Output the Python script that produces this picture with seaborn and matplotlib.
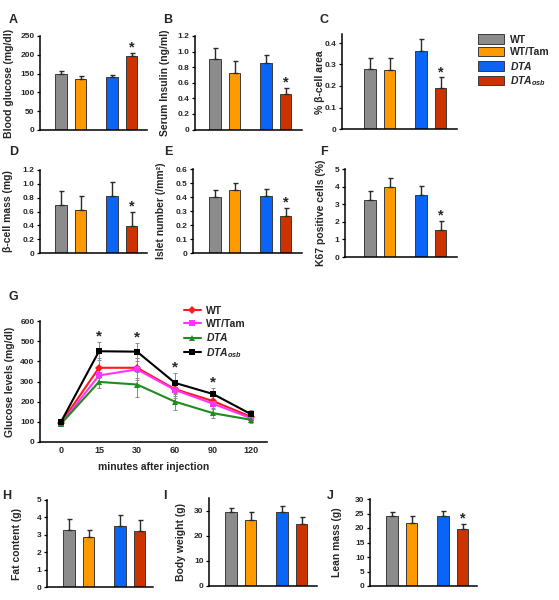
import numpy as np
import pandas as pd
import matplotlib
matplotlib.use("Agg")
import matplotlib.pyplot as plt
import matplotlib.transforms as mtransforms
from matplotlib.patches import Patch
from matplotlib.lines import Line2D
import seaborn as sns

# ---------------- data ----------------
groups = ["WT", "WT/Tam", "DTA", "DTA_osb"]
group_pos = [0, 1, 2.62, 3.62]
colors = ["#8C8C8C", "#FF9900", "#0A64F5", "#CC3300"]

glucose_mean = [148, 136, 141, 197]
glucose_err = [10, 7, 6, 7]
insulin_mean = [0.90, 0.73, 0.85, 0.46]
insulin_err = [0.15, 0.15, 0.10, 0.07]
area_mean = [0.28, 0.275, 0.365, 0.19]
area_err = [0.05, 0.055, 0.055, 0.05]
mass_mean = [0.70, 0.62, 0.82, 0.39]
mass_err = [0.20, 0.20, 0.20, 0.20]
islet_mean = [0.40, 0.45, 0.41, 0.265]
islet_err = [0.05, 0.05, 0.05, 0.055]
ki67_mean = [3.25, 3.95, 3.5, 1.55]
ki67_err = [0.52, 0.52, 0.55, 0.52]
fat_mean = [3.25, 2.85, 3.5, 3.2]
fat_err = [0.65, 0.45, 0.65, 0.65]
bw_mean = [29.5, 26.3, 29.5, 24.8]
bw_err = [1.5, 3.2, 2.3, 2.7]
lean_mean = [24.2, 21.7, 24.0, 19.5]
lean_err = [1.3, 2.3, 2.0, 2.0]

gtt_minutes = ["0", "15", "30", "60", "90", "120"]
gtt_wt = [95, 368, 368, 262, 203, 125]
gtt_wt_err = [12, 50, 50, 35, 25, 15]
gtt_tam = [90, 330, 360, 258, 190, 118]
gtt_tam_err = [10, 40, 55, 40, 25, 15]
gtt_dta = [90, 298, 285, 200, 143, 110]
gtt_dta_err = [10, 30, 60, 40, 25, 15]
gtt_osb = [100, 450, 448, 293, 238, 138]
gtt_osb_err = [12, 45, 45, 50, 30, 20]
gtt_star_idx = [1, 2, 3, 4]

# ---------------- style ----------------
sns.set_style("ticks")
plt.rcParams["font.family"] = ["Liberation Sans", "DejaVu Sans"]
plt.rcParams["font.weight"] = "bold"
plt.rcParams["axes.labelweight"] = "bold"
plt.rcParams["mathtext.fontset"] = "custom"
plt.rcParams["mathtext.it"] = "Liberation Sans:italic:bold"
plt.rcParams["mathtext.rm"] = "Liberation Sans:bold"
plt.rcParams["mathtext.bf"] = "Liberation Sans:bold"

W, H = 559, 600
fig = plt.figure(figsize=(W / 100, H / 100), dpi=100)
px = mtransforms.Affine2D().scale(1 / W, -1 / H).translate(0, 1) + fig.transFigure

legend_labels = ["WT", "WT/Tam", r"$\it{DTA}$", r"$\it{DTA}_{osb}$"]
palette = dict(zip(groups, colors))


def add_ax(l, t, r, b):
    return fig.add_axes([l / W, 1 - b / H, (r - l) / W, (b - t) / H])


def style_ax(ax, ylabel, ylab_x, yticks, fmt):
    sns.despine(ax=ax)
    for s in ("left", "bottom"):
        ax.spines[s].set_linewidth(1.1)
        ax.spines[s].set_color("black")
    ax.set_yticks(yticks)
    ax.set_yticklabels([fmt(v) for v in yticks], fontsize=6, fontweight="bold")
    ax.tick_params(axis="y", length=2.5, width=0.9, pad=1.5, color="black")
    ax.set_ylabel(ylabel, fontsize=7.5, fontweight="bold")
    bb = ax.get_position()
    yc = (1 - (bb.y0 + bb.height / 2)) * H
    ax.yaxis.set_label_coords(ylab_x, yc, transform=px)


def fmt_dec(v):
    return "0" if v == 0 else f"{v:.1f}"


def fmt_int(v):
    return f"{int(round(v))}"


def bar_panel(rect, x0, mean, err, ylim, yticks, fmt, ylabel, ylab_x, star):
    l, t, r, b = rect
    ax = add_ax(l, t, r, b)
    df = pd.DataFrame({"pos": group_pos, "val": mean, "group": groups})
    sns.barplot(data=df, x="pos", y="val", hue="group", palette=palette,
                native_scale=True, width=0.6, dodge=False, legend=False,
                saturation=1, edgecolor="#3a3a3a", linewidth=0.7,
                errorbar=None, ax=ax)
    ax.errorbar(group_pos, mean, yerr=[np.zeros(len(mean)), err], fmt="none",
                ecolor="#2a2a2a", elinewidth=1.0, capsize=1.8, capthick=1.0, zorder=5)
    s = 19.5
    ax.set_xlim((l - x0) / s, (r - x0) / s)
    ax.set_ylim(*ylim)
    ax.set_xticks([])
    ax.set_xlabel("")
    style_ax(ax, ylabel, ylab_x, yticks, fmt)
    if star:
        i = 3
        ax.annotate("*", (group_pos[i], mean[i] + err[i]), xytext=(0, 1),
                    textcoords="offset points", ha="center", va="baseline",
                    fontsize=10.5, fontweight="bold")
    return ax


bar_panel((40, 36, 147, 130), 61, glucose_mean, glucose_err, (0, 250),
          [0, 50, 100, 150, 200, 250], fmt_int, "Blood glucose (mg/dl)", 14, True)
bar_panel((195, 36, 302, 129.5), 215, insulin_mean, insulin_err, (0, 1.2),
          [0, 0.2, 0.4, 0.6, 0.8, 1.0, 1.2], fmt_dec, "Serum Insulin (ng/ml)", 170, True)
bar_panel((342, 34.4, 457, 129), 370, area_mean, area_err, (0, 0.44),
          [0, 0.1, 0.2, 0.3, 0.4], fmt_dec, "% β-cell area", 325, True)
bar_panel((40, 170, 147, 253), 61, mass_mean, mass_err, (0, 1.2),
          [0, 0.2, 0.4, 0.6, 0.8, 1.0, 1.2], fmt_dec, "β-cell mass (mg)", 13, True)
bar_panel((193, 169, 302, 253), 215, islet_mean, islet_err, (0, 0.6),
          [0, 0.1, 0.2, 0.3, 0.4, 0.5, 0.6], fmt_dec, "Islet number (/mm²)", 166, True)
bar_panel((345, 169, 457, 257), 370, ki67_mean, ki67_err, (0, 5),
          [0, 1, 2, 3, 4, 5], fmt_int, "K67 positive cells (%)", 326, True)
bar_panel((47, 500, 153, 587), 69, fat_mean, fat_err, (0, 5),
          [0, 1, 2, 3, 4, 5], fmt_int, "Fat content (g)", 22, False)
bar_panel((209, 498, 317, 586), 231, bw_mean, bw_err, (0, 35),
          [0, 10, 20, 30], fmt_int, "Body weight (g)", 186, False)
bar_panel((370, 499, 477, 586), 392, lean_mean, lean_err, (0, 30),
          [0, 5, 10, 15, 20, 25, 30], fmt_int, "Lean mass (g)", 342, True)

# legend (top right)
handles = [Patch(facecolor=c, edgecolor="#3a3a3a", linewidth=0.7) for c in colors]
leg = fig.legend(handles, legend_labels, loc="upper left",
                 bbox_to_anchor=(478 / W, 1 - 34.5 / H), frameon=False,
                 fontsize=7.5, handlelength=2.5, handleheight=1.0,
                 handletextpad=0.55, labelspacing=0.22, borderpad=0, borderaxespad=0)
for t in leg.get_texts():
    t.set_fontweight("bold")

# ---------------- G: glucose tolerance ----------------
axg = add_ax(40, 321, 267, 442)
series = {"WT": (gtt_wt, gtt_wt_err), "WT/Tam": (gtt_tam, gtt_tam_err),
          "DTA": (gtt_dta, gtt_dta_err), "DTA_osb": (gtt_osb, gtt_osb_err)}
line_colors = {"WT": "#FF1A1A", "WT/Tam": "#FF33FF", "DTA": "#1E8C1E", "DTA_osb": "#000000"}
markers = {"WT": "D", "WT/Tam": "s", "DTA": "^", "DTA_osb": "s"}
xpos = np.arange(len(gtt_minutes))
rows = []
for g in groups:
    for i, v in enumerate(series[g][0]):
        rows.append({"pos": xpos[i], "val": v, "group": g})
gdf = pd.DataFrame(rows)
for g in groups:
    axg.errorbar(xpos, series[g][0], yerr=series[g][1], fmt="none",
                 ecolor="#8a8a8a", elinewidth=0.7, capsize=1.5, capthick=0.7, zorder=1)
sns.lineplot(data=gdf, x="pos", y="val", hue="group", style="group",
             hue_order=groups, style_order=groups, palette=line_colors,
             markers=markers, dashes=False, markersize=4, linewidth=1.5,
             markeredgewidth=0, errorbar=None, legend=False, ax=axg)
axg.set_xlim((40 - 61) / 38, (267 - 61) / 38)
axg.set_ylim(0, 600)
axg.set_xticks(xpos)
axg.set_xticklabels(gtt_minutes, fontsize=6.5, fontweight="bold")
axg.tick_params(axis="x", length=0, pad=3)
axg.set_xlabel("minutes after injection", fontsize=7.5, fontweight="bold", labelpad=5)
style_ax(axg, "Glucose levels (mg/dl)", 15, [0, 100, 200, 300, 400, 500, 600], fmt_int)
for i in gtt_star_idx:
    top = max(series[g][0][i] + series[g][1][i] for g in groups)
    axg.annotate("*", (xpos[i], top), xytext=(0, 1), textcoords="offset points",
                 ha="center", va="baseline", fontsize=11, fontweight="bold")

lhandles = [Line2D([0], [0], color=line_colors[g], marker=markers[g], markersize=4,
                   markeredgewidth=0, linewidth=1.5) for g in groups]
leg2 = fig.legend(lhandles, legend_labels, loc="upper left",
                  bbox_to_anchor=(184 / W, 1 - 306 / H), frameon=False,
                  fontsize=7.5, handlelength=1.6, handletextpad=0.5,
                  labelspacing=0.25, borderpad=0, borderaxespad=0)
for t in leg2.get_texts():
    t.set_fontweight("bold")

# panel letters
for letter, (x, y) in {"A": (13.5, 20), "B": (168, 20), "C": (323.5, 20),
                       "D": (13.5, 152), "E": (168, 152), "F": (323.5, 152),
                       "G": (13.5, 297), "H": (7, 496), "I": (165, 496),
                       "J": (330, 496)}.items():
    fig.text(x, y, letter, transform=px, ha="center", va="center",
             fontsize=9, fontweight="bold")

fig.savefig("out.png", dpi=100)
